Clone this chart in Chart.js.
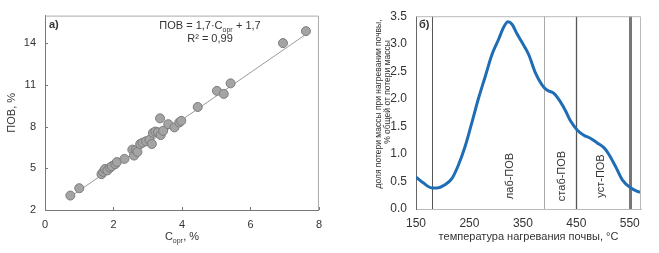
<!DOCTYPE html>
<html>
<head>
<meta charset="utf-8">
<script src="https://cdn.jsdelivr.net/npm/chart.js@4"></script>
<style>
  html, body { margin: 0; padding: 0; background: #fff; }
  #wrap { position: relative; width: 659px; height: 253px; }
  canvas { position: absolute; top: 0; }
  #left { left: 0; }
  #right { left: 330px; }
</style>
</head>
<body>
<div id="wrap">
  <canvas id="left" width="330" height="253"></canvas>
  <canvas id="right" width="329" height="253"></canvas>
</div>
<script>
// ---------- panel a) : ПОВ vs C_орг ----------
const cOrg = [0.74, 1.00, 1.65, 1.70, 1.75, 1.82, 1.90, 1.95, 2.05, 2.10, 2.32, 2.55, 2.60, 2.65, 2.70,
  2.78, 2.85, 2.95, 3.05, 3.12, 3.15, 3.22, 3.30, 3.36, 3.38, 3.45, 3.60, 3.78, 3.92, 3.98,
  4.46, 5.02, 5.22, 5.42, 6.95, 7.62];
const pov = [3.04, 3.57, 4.58, 4.75, 4.95, 4.85, 5.05, 5.15, 5.30, 5.45, 5.68, 6.35, 5.92, 6.30, 6.18,
  6.75, 6.85, 6.95, 7.05, 6.75, 7.55, 7.65, 7.60, 8.60, 7.40, 7.70, 8.18, 7.95, 8.30, 8.42,
  9.42, 10.58, 10.36, 11.12, 14.02, 14.88];
const fitSlope = 1.7, fitIntercept = 1.7;
const xTicksA = [0, 2, 4, 6, 8];
const yTicksA = [2, 5, 8, 11, 14];

// ---------- panel б) : thermal mass loss ----------
const temps = [150, 164, 181, 189, 204, 217, 229, 242, 254, 267, 280, 292, 305, 314, 322, 330,
  339, 348, 361, 373, 386, 395, 408, 420, 430, 439, 452, 464, 477, 489, 502, 511, 524, 536, 552, 564, 572];
const massLoss = [0.58, 0.47, 0.38, 0.38, 0.44, 0.55, 0.79, 1.14, 1.55, 2.01, 2.42, 2.80, 3.09, 3.30, 3.40, 3.35,
  3.18, 3.03, 2.80, 2.48, 2.25, 2.16, 2.10, 1.95, 1.78, 1.60, 1.43, 1.34, 1.28, 1.20, 1.11, 0.99, 0.76, 0.53, 0.38, 0.32, 0.30];
const xTicksB = [150, 250, 350, 450, 550];
const borders = [180, 390, 450, 550];
const fractionLabels = ['лаб-ПОВ', 'стаб-ПОВ', 'уст-ПОВ'];
const fractionAt = [326, 424, 496];

const FONT = "'Liberation Sans', Arial, sans-serif";
const TXT = '#333';

function fixTicks(list) {
  return function (scale) { scale.ticks = list.map(v => ({ value: v })); };
}

// frame around plot area + small inward tick marks
const frame = {
  id: 'frame',
  afterDraw(chart, args, opts) {
    const a = chart.chartArea, ctx = chart.ctx;
    ctx.save();
    ctx.strokeStyle = opts.color || '#aaa';
    ctx.lineWidth = 1;
    ctx.beginPath();
    ctx.moveTo(a.left, a.top + 0.5); ctx.lineTo(a.right - 0.5, a.top + 0.5); ctx.lineTo(a.right - 0.5, a.bottom);
    ctx.stroke();
    if (opts.marks) {
      ctx.strokeStyle = '#777';
      chart.scales.x.ticks.forEach(t => {
        const px = Math.round(chart.scales.x.getPixelForValue(t.value)) + 0.5;
        ctx.beginPath(); ctx.moveTo(px, a.bottom); ctx.lineTo(px, a.bottom - 3); ctx.stroke();
      });
      chart.scales.y.ticks.forEach(t => {
        const py = Math.round(chart.scales.y.getPixelForValue(t.value)) + 0.5;
        ctx.beginPath(); ctx.moveTo(a.left, py); ctx.lineTo(a.left + 3, py); ctx.stroke();
      });
    }
    ctx.restore();
  }
};

// texts of panel a
const textsA = {
  id: 'textsA',
  afterDraw(chart) {
    const ctx = chart.ctx;
    ctx.save();
    ctx.fillStyle = TXT;
    ctx.textBaseline = 'middle';
    ctx.font = 'bold 11px ' + FONT;
    ctx.fillText('а)', 49, 25);
    // equation
    const p1 = 'ПОВ = 1,7·C', sub = 'орг', p2 = ' + 1,7';
    ctx.font = '11px ' + FONT; const w1 = ctx.measureText(p1).width;
    ctx.font = '7px ' + FONT; const ws = ctx.measureText(sub).width;
    ctx.font = '11px ' + FONT; const w2 = ctx.measureText(p2).width;
    let x = 210 - (w1 + ws + w2) / 2;
    ctx.fillText(p1, x, 26); x += w1;
    ctx.font = '7px ' + FONT; ctx.fillText(sub, x, 30); x += ws;
    ctx.font = '11px ' + FONT; ctx.fillText(p2, x, 26);
    ctx.textAlign = 'center';
    ctx.fillText('R² = 0,99', 210, 39);
    // x title with subscript
    ctx.textAlign = 'left';
    const t1 = 'C', ts = 'орг', t2 = ', %';
    const a1 = ctx.measureText(t1).width;
    ctx.font = '7px ' + FONT; const as = ctx.measureText(ts).width;
    ctx.font = '11px ' + FONT; const a2 = ctx.measureText(t2).width;
    let tx = (chart.chartArea.left + chart.chartArea.right) / 2 - (a1 + as + a2) / 2;
    ctx.fillText(t1, tx, 237); tx += a1;
    ctx.font = '7px ' + FONT; ctx.fillText(ts, tx, 241); tx += as;
    ctx.font = '11px ' + FONT; ctx.fillText(t2, tx, 237);
    ctx.restore();
  }
};

// vertical border lines, fraction labels and titles of panel b
const linesB = {
  id: 'linesB',
  beforeDatasetsDraw(chart) {
    const ctx = chart.ctx, xs = chart.scales.x, a = chart.chartArea;
    const styles = [['#555', 1], ['#aaa', 1], ['#555', 1.3], ['#777', 3]];
    ctx.save();
    borders.forEach((t, i) => {
      const px = Math.round(xs.getPixelForValue(t)) + 0.5;
      ctx.strokeStyle = styles[i][0];
      ctx.lineWidth = styles[i][1];
      ctx.beginPath(); ctx.moveTo(px, a.top); ctx.lineTo(px, a.bottom); ctx.stroke();
    });
    ctx.fillStyle = TXT;
    ctx.font = '11px ' + FONT;
    ctx.textAlign = 'center';
    ctx.textBaseline = 'middle';
    fractionLabels.forEach((s, i) => {
      ctx.save();
      ctx.translate(xs.getPixelForValue(fractionAt[i]), 176);
      ctx.rotate(-Math.PI / 2);
      ctx.fillText(s, 0, 0);
      ctx.restore();
    });
    ctx.restore();
  },
  afterDraw(chart) {
    const ctx = chart.ctx;
    ctx.save();
    ctx.fillStyle = TXT;
    ctx.textBaseline = 'middle';
    ctx.font = 'bold 11px ' + FONT;
    ctx.fillText('б)', 89, 25);
    ctx.font = '8.5px ' + FONT;
    ctx.textAlign = 'center';
    ctx.save(); ctx.translate(49, 104); ctx.rotate(-Math.PI / 2);
    ctx.fillText('доля потери массы при нагревании почвы,', 0, 0); ctx.restore();
    ctx.save(); ctx.translate(58, 92); ctx.rotate(-Math.PI / 2);
    ctx.fillText('% общей от потери массы', 0, 0); ctx.restore();
    ctx.restore();
  }
};

const trendX = [Math.min(...cOrg), Math.max(...cOrg)];

new Chart(document.getElementById('left'), {
  type: 'scatter',
  data: {
    datasets: [
      {
        type: 'line',
        data: trendX.map(x => ({ x: x, y: fitSlope * x + fitIntercept })),
        borderColor: '#9a9a9a', borderWidth: 1, pointRadius: 0, order: 2
      },
      {
        data: cOrg.map((x, i) => ({ x: x, y: pov[i] })),
        backgroundColor: '#a4a4a4', borderColor: '#7c7c7c', borderWidth: 1,
        pointRadius: 4.5, order: 1
      }
    ]
  },
  options: {
    responsive: false, animation: false,
    layout: { padding: { top: 9, right: 7, left: 0, bottom: 0 } },
    plugins: { legend: { display: false }, tooltip: { enabled: false }, frame: { color: '#aaa', marks: true } },
    scales: {
      x: {
        type: 'linear', min: 0, max: 8,
        afterBuildTicks: fixTicks(xTicksA),
        afterFit(s) { s.height = 43; },
        grid: { display: false, drawTicks: false, tickLength: 0 },
        border: { color: '#777' },
        ticks: { padding: 8, color: TXT, font: { family: FONT, size: 11 } }
      },
      y: {
        min: 2, max: 16,
        afterBuildTicks: fixTicks(yTicksA),
        afterFit(s) { s.width = 45; },
        grid: { display: false, drawTicks: false, tickLength: 0 },
        border: { color: '#777' },
        ticks: { padding: 9, color: TXT, font: { family: FONT, size: 11 } },
        title: { display: true, text: 'ПОВ, %', color: TXT, font: { family: FONT, size: 11 }, padding: { top: 5 } }
      }
    }
  },
  plugins: [frame, textsA]
});

new Chart(document.getElementById('right'), {
  type: 'line',
  data: {
    datasets: [{
      data: temps.map((t, i) => ({ x: t, y: massLoss[i] })),
      borderColor: '#1f6db4', borderWidth: 3, pointRadius: 0,
      cubicInterpolationMode: 'monotone'
    }]
  },
  options: {
    responsive: false, animation: false,
    layout: { padding: { top: 9, right: 18, left: 0, bottom: 0 } },
    plugins: { legend: { display: false }, tooltip: { enabled: false }, frame: { color: '#bbb' } },
    scales: {
      x: {
        type: 'linear', min: 150, max: 571,
        afterBuildTicks: fixTicks(xTicksB),
        afterFit(s) { s.height = 44; },
        grid: { display: false, drawTicks: false, tickLength: 0 },
        border: { color: '#bbb' },
        ticks: { padding: 7, color: TXT, font: { family: FONT, size: 12 } },
        title: { display: true, text: 'температура нагревания почвы, °C', color: TXT,
          font: { family: FONT, size: 11 }, padding: { top: 0, bottom: 9 } }
      },
      y: {
        min: 0, max: 3.5,
        afterFit(s) { s.width = 86; },
        grid: { display: false, drawTicks: false, tickLength: 0 },
        border: { color: '#666' },
        ticks: { stepSize: 0.5, padding: 9, color: TXT, font: { family: FONT, size: 12 },
          callback: v => v.toFixed(1) }
      }
    }
  },
  plugins: [frame, linesB]
});
</script>
</body>
</html>
